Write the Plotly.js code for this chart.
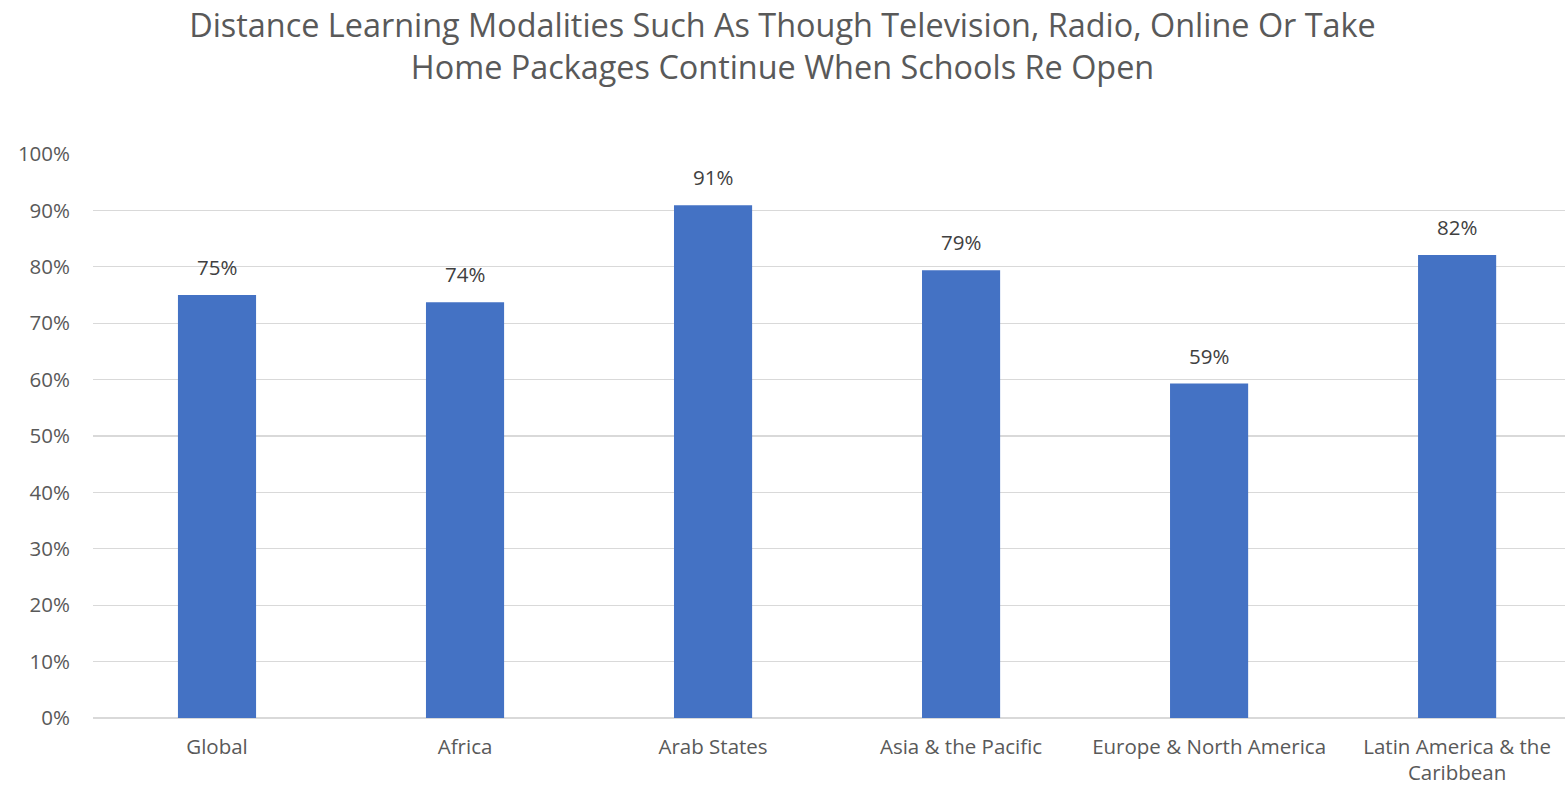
<!DOCTYPE html>
<html>
<head>
<meta charset="utf-8">
<script src="https://cdn.plot.ly/plotly-3.0.1.min.js"></script>
<style>html,body{margin:0;padding:0;background:#fff;}#chart{width:1565px;height:789px;}</style>
</head>
<body>
<div id="chart"></div>
<script>
const categories = ["Global", "Africa", "Arab States", "Asia & the Pacific", "Europe & North America", "Latin America & the<br>Caribbean"];
const values = [0.75, 0.737, 0.909, 0.794, 0.593, 0.821];
const labels = ["75%", "74%", "91%", "79%", "59%", "82%"];
const yTicks = [0, 0.1, 0.2, 0.3, 0.4, 0.5, 0.6, 0.7, 0.8, 0.9, 1.0];
const yTickText = ["0%", "10%", "20%", "30%", "40%", "50%", "60%", "70%", "80%", "90%", "100%"];
const titleText = "Distance Learning Modalities Such As Though Television, Radio, Online Or Take<br>Home Packages Continue When Schools Re Open";

const font = "'Open Sans', sans-serif";

const trace = {
  type: "bar",
  x: categories,
  y: values,
  marker: {color: "#4472c4"},
  hoverinfo: "none"
};

const annotations = categories.map((c, i) => ({
  x: c, y: values[i], text: labels[i],
  xref: "x", yref: "y", showarrow: false,
  yanchor: "bottom", yshift: 12,
  font: {family: font, size: 20.5, color: "#404040"}
}));

const layout = {
  width: 1565, height: 789,
  margin: {l: 93, r: 0, t: 154, b: 71},
  paper_bgcolor: "#fff", plot_bgcolor: "#fff",
  title: {text: titleText, x: 0.5, xanchor: "center", y: 0.953, yanchor: "middle",
          font: {family: font, size: 32.4, color: "#595959"}},
  bargap: 0.685,
  showlegend: false,
  xaxis: {type: "category", range: [-0.5, 5.435], showgrid: false, showline: false, zeroline: false,
          ticks: "", ticklabelstandoff: 14, tickfont: {family: font, size: 20.5, color: "#595959"}, automargin: false},
  yaxis: {range: [0, 1.0], tickvals: yTicks, ticktext: yTickText, showgrid: true, gridcolor: "#d9d9d9",
          gridwidth: 1.3, zeroline: true, zerolinecolor: "#d9d9d9", zerolinewidth: 1.3, showline: false,
          ticks: "", ticklabelstandoff: 22, tickfont: {family: font, size: 20.5, color: "#595959"}, automargin: false},
  annotations: annotations
};

Plotly.newPlot("chart", [trace], layout, {displayModeBar: false, staticPlot: true});
</script>
</body>
</html>
